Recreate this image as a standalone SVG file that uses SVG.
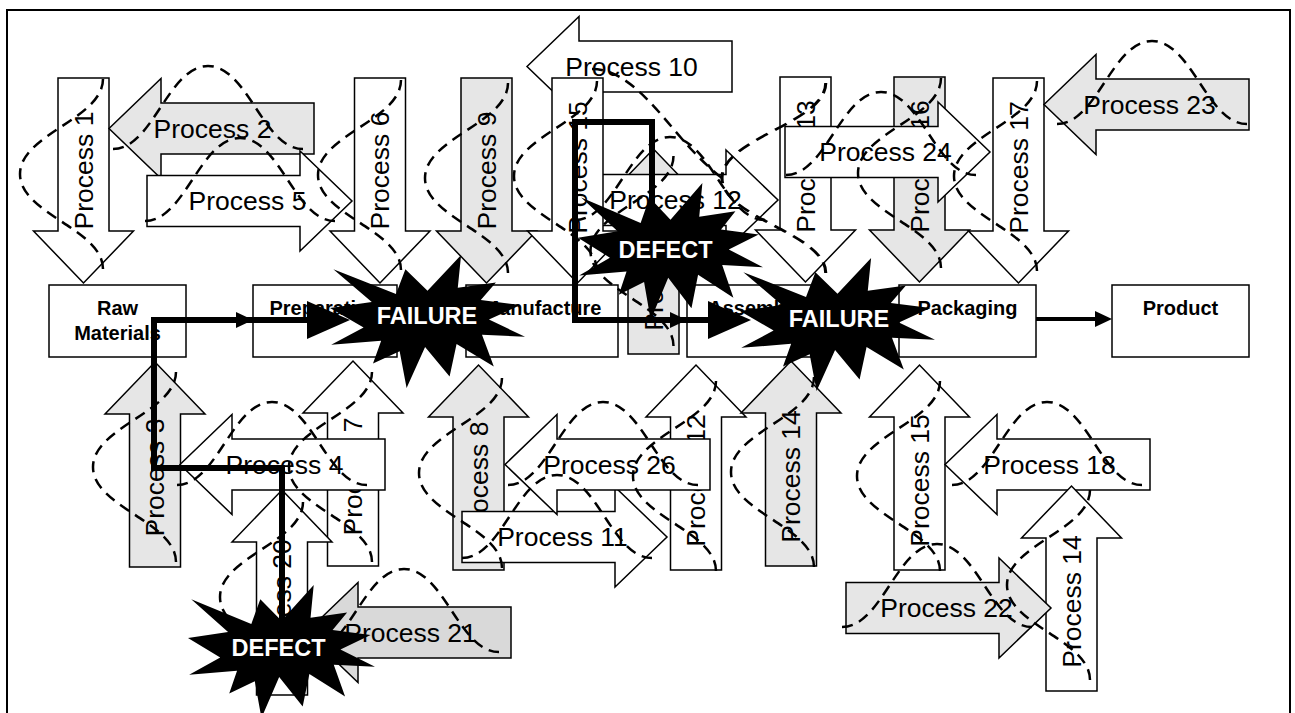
<svg xmlns="http://www.w3.org/2000/svg" width="1295" height="713" viewBox="0 0 1295 713">
<defs>
<style>
.ar{stroke:#000;stroke-width:1.5}
.w{fill:#fff}
.g{fill:#e6e6e6}
.g2{fill:#d9d9d9}
.t{font-family:"Liberation Sans",Arial,sans-serif;font-size:26.5px;fill:#000;text-anchor:middle}
.bx{fill:#fff;stroke:#000;stroke-width:1.5}
.bt{font-family:"Liberation Sans",Arial,sans-serif;font-size:20px;font-weight:bold;fill:#000;text-anchor:middle}
.cv{fill:none;stroke:#000;stroke-width:2.5;stroke-dasharray:11 7}
.fl{stroke:#000;stroke-width:4;fill:none}
.tp{stroke:#000;stroke-width:6;fill:none;stroke-linejoin:miter}
.stt{font-family:"Liberation Sans",Arial,sans-serif;font-size:23.5px;font-weight:bold;fill:#fff;text-anchor:middle}
</style>
<polygon id="ra" points="0,24.5 153,24.5 153,0 205,50 153,100 153,75.5 0,75.5"/>
<polygon id="la" points="0,50 52,0 52,24.5 205,24.5 205,75.5 52,75.5 52,100"/>
<path id="bell" d="M-95,83 C-55,83 -40,0 0,0 C40,0 55,83 95,83"/>
<polygon id="seal" points="10800,5800 14522,0 14155,5325 18380,4457 16702,7315 21097,8137 17607,10475 21600,13290 16837,12942 18145,18095 14020,14457 13247,19737 10532,14935 8485,21600 7715,15627 4762,17617 5667,13937 135,14587 3722,11775 0,8615 4627,7617 370,2295 7312,6320 8352,2295"/>
<marker id="ah" markerUnits="userSpaceOnUse" markerWidth="17" markerHeight="16" refX="4" refY="8" orient="auto" viewBox="0 0 17 16"><path d="M0,0 L17,8 L0,16 z" fill="#000"/></marker>
</defs>
<rect x="7" y="10" width="1283" height="720" fill="#fff" stroke="#000" stroke-width="2"/>

<g id="p10" transform="translate(527,16.5)"><use href="#la" class="ar w"/><text class="t" x="104.5" y="59">Process 10</text></g>
<g id="p19" transform="translate(603.5,354) rotate(-90)"><use href="#ra" class="ar g"/><text class="t" x="89.5" y="59">Process 19</text></g>
<g id="p1" transform="translate(33.5,283) rotate(-90)"><use href="#la" class="ar w"/><text class="t" x="112.5" y="59">Process 1</text></g>
<g id="p2" transform="translate(109,78.5)"><use href="#la" class="ar g"/><text class="t" x="103.5" y="59">Process 2</text></g>
<g id="p5" transform="translate(147,151)"><use href="#ra" class="ar w"/><text class="t" x="100.5" y="59">Process 5</text></g>
<g id="p6" transform="translate(330,283) rotate(-90)"><use href="#la" class="ar w"/><text class="t" x="112.5" y="59">Process 6</text></g>
<g id="p9" transform="translate(436.5,283) rotate(-90)"><use href="#la" class="ar g"/><text class="t" x="112.5" y="59">Process 9</text></g>
<g id="p12a" transform="translate(573,150)"><use href="#ra" class="ar w"/><text class="t" x="102.5" y="59">Process 12</text></g>
<g id="p15a" transform="translate(527.5,283) rotate(-90)"><use href="#la" class="ar w"/><text class="t" x="115.5" y="59">Process 15</text></g>
<g id="p13" transform="translate(755.5,282) rotate(-90)"><use href="#la" class="ar w"/><text class="t" x="115.5" y="59">Process 13</text></g>
<g id="p16" transform="translate(869.5,282) rotate(-90)"><use href="#la" class="ar g"/><text class="t" x="115.5" y="59">Process 16</text></g>
<g id="p24" transform="translate(785,102)"><use href="#ra" class="ar w"/><text class="t" x="100.5" y="59">Process 24</text></g>
<g id="p17" transform="translate(968.5,283) rotate(-90)"><use href="#la" class="ar w"/><text class="t" x="115.5" y="59">Process 17</text></g>
<g id="p23" transform="translate(1044,54.5)"><use href="#la" class="ar g"/><text class="t" x="105.5" y="59">Process 23</text></g>

<g id="p3" transform="translate(105,567) rotate(-90)"><use href="#ra" class="ar g"/><text class="t" x="89.5" y="59">Process 3</text></g>
<g id="p7" transform="translate(303,566) rotate(-90)"><use href="#ra" class="ar w"/><text class="t" x="89.5" y="59">Process 7</text></g>
<g id="p4" transform="translate(180,414.5)"><use href="#la" class="ar w"/><text class="t" x="104.5" y="59">Process 4</text></g>
<g id="p20" transform="translate(232,695) rotate(-90)"><use href="#ra" class="ar w"/><text class="t" x="89.5" y="59">Process 20</text></g>
<g id="p21" transform="translate(306,582.5)"><use href="#la" class="ar g2"/><text class="t" x="104.5" y="59">Process 21</text></g>
<g id="p8" transform="translate(428.5,570) rotate(-90)"><use href="#ra" class="ar g"/><text class="t" x="89.5" y="59">Process 8</text></g>
<g id="p12b" transform="translate(646,570) rotate(-90)"><use href="#ra" class="ar w"/><text class="t" x="89.5" y="59">Process 12</text></g>
<g id="p11" transform="translate(462,487)"><use href="#ra" class="ar w"/><text class="t" x="100.5" y="59">Process 11</text></g>
<g id="p26" transform="translate(505,414.5)"><use href="#la" class="ar w"/><text class="t" x="104.5" y="59">Process 26</text></g>
<g id="p14a" transform="translate(741,566) rotate(-90)"><use href="#ra" class="ar g"/><text class="t" x="89.5" y="59">Process 14</text></g>
<g id="p15b" transform="translate(869.5,570) rotate(-90)"><use href="#ra" class="ar w"/><text class="t" x="89.5" y="59">Process 15</text></g>
<g id="p18" transform="translate(945,414.5)"><use href="#la" class="ar w"/><text class="t" x="104.5" y="59">Process 18</text></g>
<g id="p14b" transform="translate(1021.5,691) rotate(-90)"><use href="#ra" class="ar w"/><text class="t" x="89.5" y="59">Process 14</text></g>
<g id="p22" transform="translate(846,558)"><use href="#ra" class="ar g"/><text class="t" x="100.5" y="59">Process 22</text></g>

<g id="raw"><rect class="bx" x="49" y="285" width="137" height="72"/><text class="bt" x="117.5" y="315">Raw</text><text class="bt" x="117.5" y="340">Materials</text></g>
<g id="prep"><rect class="bx" x="253" y="285" width="144" height="72"/><text class="bt" x="325" y="315">Preparation</text></g>
<g id="manu"><rect class="bx" x="466" y="285" width="152" height="72"/><text class="bt" x="542" y="315">Manufacture</text></g>
<g id="asm"><rect class="bx" x="687" y="285" width="137" height="72"/><text class="bt" x="755.5" y="315">Assembly</text></g>
<g id="pack"><rect class="bx" x="899" y="285" width="137" height="72"/><text class="bt" x="967.5" y="315">Packaging</text></g>
<g id="prod"><rect class="bx" x="1112" y="285" width="137" height="72"/><text class="bt" x="1180.5" y="315">Product</text></g>

<g id="curves" class="cv">
<use href="#bell" transform="translate(20,174) rotate(-90)"/>
<use href="#bell" transform="translate(208,66)"/>
<use href="#bell" transform="translate(240,138)"/>
<use href="#bell" transform="translate(318,175) rotate(-90)"/>
<use href="#bell" transform="translate(425,178) rotate(-90)"/>
<path d="M592,69 C630,69 660,115 690,148 C704,163 714,172 722,178"/>
<use href="#bell" transform="translate(670,137)"/>
<use href="#bell" transform="translate(514,176) rotate(-90)"/>
<use href="#bell" transform="translate(590.5,251) rotate(-90)"/>
<use href="#bell" transform="translate(722,178) rotate(-90) scale(1,1.25)"/>
<use href="#bell" transform="translate(858,173) rotate(-90)"/>
<use href="#bell" transform="translate(881,92)"/>
<use href="#bell" transform="translate(954,176) rotate(-90)"/>
<use href="#bell" transform="translate(1152,41)"/>
<use href="#bell" transform="translate(93,467) rotate(-90)"/>
<use href="#bell" transform="translate(289,467) rotate(-90)"/>
<use href="#bell" transform="translate(272,402)"/>
<use href="#bell" transform="translate(220,597) rotate(-90)"/>
<use href="#bell" transform="translate(404,569)"/>
<use href="#bell" transform="translate(419,473) rotate(-90)"/>
<use href="#bell" transform="translate(633,476) rotate(-90)"/>
<use href="#bell" transform="translate(557,475)"/>
<use href="#bell" transform="translate(603,402)"/>
<use href="#bell" transform="translate(731,472) rotate(-90)"/>
<use href="#bell" transform="translate(857,476) rotate(-90)"/>
<use href="#bell" transform="translate(1047,402)"/>
<use href="#bell" transform="translate(1007,585) rotate(-90)"/>
<use href="#bell" transform="translate(937,544)"/>
</g>

<g id="connectors">
<line class="fl" x1="186" y1="320" x2="240" y2="320" marker-end="url(#ah)"/>
<line class="fl" x1="397" y1="320" x2="453" y2="320" marker-end="url(#ah)"/>
<line class="fl" x1="618" y1="320" x2="674" y2="320" marker-end="url(#ah)"/>
<line class="fl" x1="824" y1="320" x2="886" y2="320" marker-end="url(#ah)"/>
<line class="fl" x1="1036" y1="319" x2="1099" y2="319" marker-end="url(#ah)"/>
<path class="tp" d="M282,622 V468 H154 V320 H309"/>
<polygon points="307,301 350,320 307,339" fill="#000"/>
<path class="tp" d="M652,235 V122 H575 V320 H710"/>
<polygon points="708,301 751,320 708,339" fill="#000"/>
</g>

<g id="failure1"><use href="#seal" transform="translate(330,255) scale(0.0090278,0.0061574)"/><text class="stt" x="427" y="324">FAILURE</text></g>
<g id="failure2"><use href="#seal" transform="translate(740,258) scale(0.0090278,0.0061574)"/><text class="stt" x="839" y="327">FAILURE</text></g>
<g id="defect1"><use href="#seal" transform="translate(578,183) scale(0.0085648,0.0063426)"/><text class="stt" x="665.5" y="258">DEFECT</text></g>
<g id="defect2"><use href="#seal" transform="translate(188,585) scale(0.0086574,0.0061574)"/><text class="stt" x="278.5" y="656">DEFECT</text></g>
</svg>
